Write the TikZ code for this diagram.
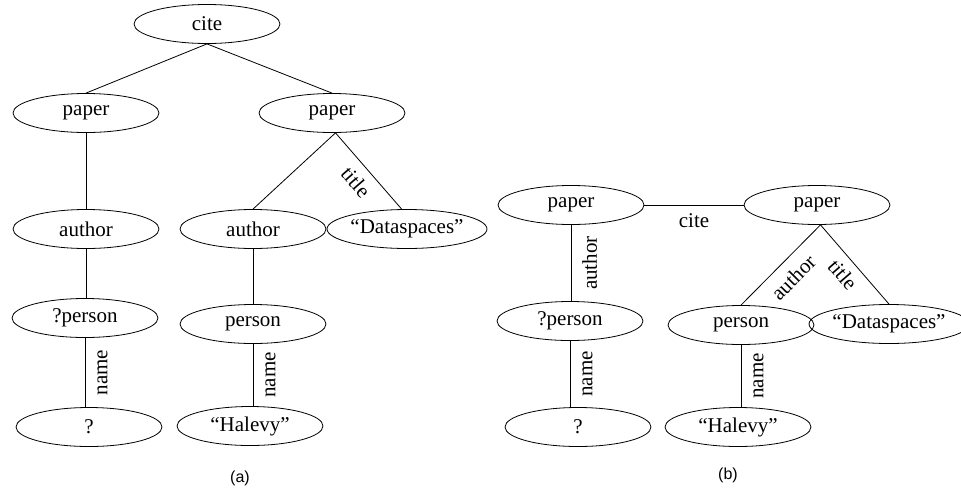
\documentclass[tikz,border=0pt]{standalone}
\usepackage{fontspec}
\setmainfont{Liberation Serif}
\newfontfamily\capfont{Liberation Sans}
\usetikzlibrary{shapes.geometric}
\begin{document}
\begin{tikzpicture}[x=1pt,y=1pt,
  every node/.style={font=\fontsize{21}{25}\selectfont},
  nd/.style={ellipse,draw,line width=0.8pt,minimum width=146pt,minimum height=39pt,inner sep=0pt},
  lbl/.style={sloped,below=#1,inner sep=0pt},
  edge/.style={line width=0.8pt},
  captext/.style={font=\capfont\fontsize{16}{19}\selectfont}]
\useasboundingbox (0,0) rectangle (961,-493);

% (a) query tree
\node[nd] (c)   at (207,-24)  {cite};
\node[nd] (p1)  at (86,-113)  {paper};
\node[nd] (p2)  at (332,-113) {paper};
\node[nd] (a1)  at (86,-229)  {author};
\node[nd] (a2)  at (253,-229) {author};
\node[nd] (d1)  at (407,-229) {“Dataspaces”};
\node[nd] (q1)  at (85,-318)  {?person};
\node[nd] (pe1) at (253,-324) {person};
\node[nd] (x1)  at (89,-427)  {?};
\node[nd] (h1)  at (250,-426) {“Halevy”};

\draw[edge] (c.south) -- (p1.north);
\draw[edge] (c.south) -- (p2.north);
\draw[edge] (p1.south) -- (p1.south |- a1.north);
\draw[edge] (p2.-80) -- (a2.north);
\draw[edge] (p2.-80) -- node[lbl=9pt] {title} (d1.105);
\draw[edge] (a1.south) -- (a1.south |- q1.north);
\draw[edge] (a2.south) -- (a2.south |- pe1.north);
% vertical edges with labels run upwards so the label reads bottom to top
\draw[edge] (q1.south |- x1.north) -- node[lbl=12pt] {name} (q1.south);
\draw[edge] (pe1.south |- h1.north) -- node[lbl=12pt] {name} (pe1.south);

\node[captext] (capa) at (240,-478) {(a)};

% (b) query graph
\node[nd] (p3)  at (571,-205) {paper};
\node[nd] (p4)  at (817,-205) {paper};
\node[nd] (q2)  at (570,-321) {?person};
\node[nd] (x2)  at (578,-427) {?};
\node[nd] (pe2) at (741,-325) {person};
\node[nd] (d2)  at (889,-324) {“Dataspaces”};
\node[nd] (h2)  at (738,-427) {“Halevy”};

\draw[edge] (p3) -- node[lbl=8pt] {cite} (p4);
\draw[edge] (p3.south |- q2.north) -- node[lbl=11pt] {author} (p3.south);
\draw[edge] (q2.south |- x2.north) -- node[lbl=12pt] {name} (q2.south);
\draw[edge] (p4.-80) -- node[lbl=10pt] {author} (pe2.north);
\draw[edge] (p4.-80) -- node[lbl=8pt] {title} (d2.north);
\draw[edge] (pe2.south |- h2.north) -- node[lbl=12pt] {name} (pe2.south);

\node[captext] (capb) at (728,-475) {(b)};
\end{tikzpicture}
\end{document}
